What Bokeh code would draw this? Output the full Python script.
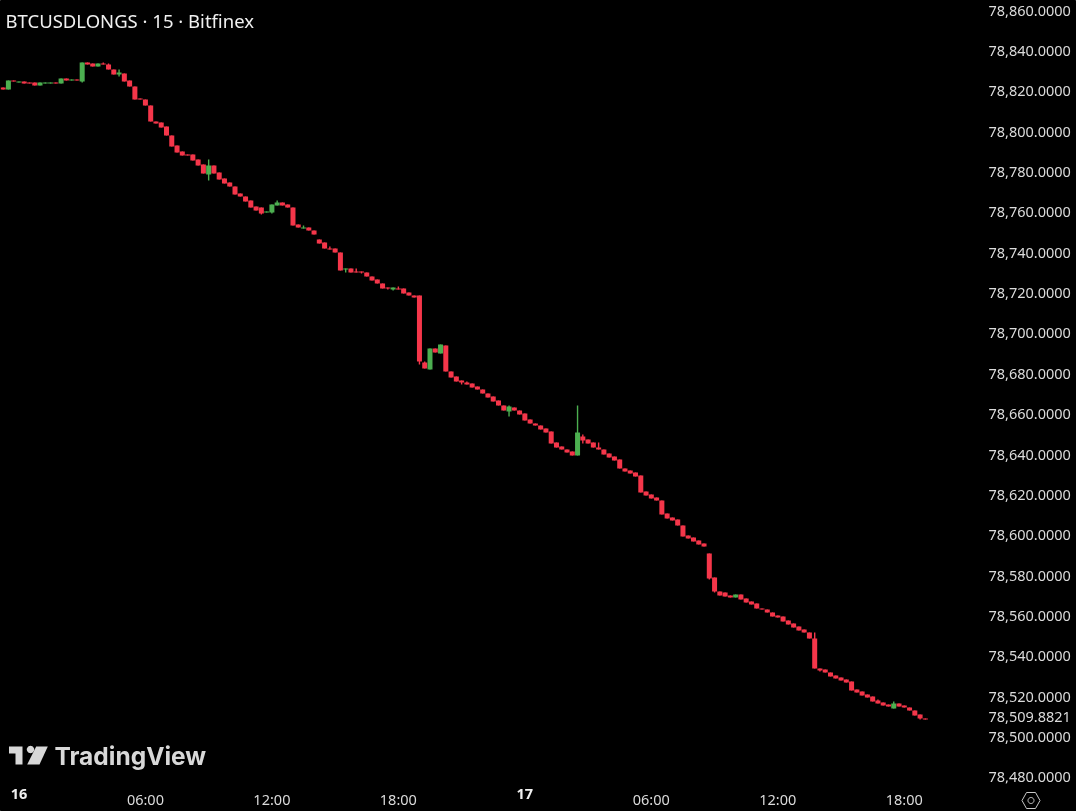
import numpy as np
from bokeh.embed import file_html
from bokeh.resources import INLINE
from bokeh.plotting import figure
from bokeh.models import (ColumnDataSource, FixedTicker, NumeralTickFormatter, Label,
                          PolyAnnotation, Range1d, LinearAxis)

first_bar = -4
opens = [78822.35,78821.85,78820.86,78825.32,78824.33,78824.82,78824.33,78824.33,78822.84,78823.83,78823.83,78824.33,78823.83,78826.31,78825.32,78825.81,
78824.82,78834.24,78833.74,78832.26,78833.74,78833.25,78830.77,78828.29,78828.79,78825.32,78822.35,78816.40,78815.91,78812.93,78805.01,78804.51,78802.53,78798.07,78793.12,78790.14,78788.66,78788.66,78786.18,78783.70,78778.75,78783.21,78779.74,78776.77,78774.78,78772.80,78769.33,78767.85,78765.87,78762.89,78762.40,78759.92,78759.92,78763.39,78764.88,78763.88,78762.40,78753.98,
78751.99,78752.49,78751.00,78746.54,78745.06,78742.09,78742.09,78740.10,78731.68,78732.18,78730.69,78730.69,78730.19,78728.21,78726.73,78724.75,78722.76,78721.77,78722.27,78722.27,78720.29,78718.80,78718.80,78685.60,78682.14,78692.54,78690.06,78694.03,78681.15,78678.67,78676.69,78675.70,78675.20,78673.71,78672.23,78670.25,78668.76,78666.78,
78664.30,78661.33,78663.31,78661.82,78660.34,78657.37,78655.38,78654.39,78652.91,78651.42,78645.97,78643.99,78642.50,78641.51,78639.53,78648.94,78647.46,78645.97,78643.49,78642.50,78640.52,78639.03,78637.55,78633.09,78632.10,78631.11,78629.62,78621.69,78620.21,78618.72,78617.23,78610.79,78608.81,78607.82,78604.85,78599.89,78598.90,78597.42,78595.93,
78590.98,78579.09,78572.15,78571.65,78570.17,78569.18,78570.66,78568.68,78567.20,78566.21,78563.73,78563.23,78561.75,78560.26,78559.76,78557.78,78556.30,78554.81,78553.32,78551.84,78548.86,78534.00,78533.50,78532.02,78530.53,78529.54,78528.55,78527.56,78523.60,78522.61,78521.12,78520.13,78518.15,78517.16,78516.16,78514.18,78516.66,78515.67,78514.68,78513.19,78511.21,78509.23]
closes = [78821.85,78820.86,78825.32,78824.82,78824.82,78823.83,78823.83,78822.84,78824.33,78824.33,78824.33,78823.83,78826.31,78825.32,78825.81,78825.32,
78834.24,78833.25,78832.26,78833.74,78833.25,78830.77,78828.29,78829.28,78824.82,78822.35,78815.91,78815.91,78812.93,78805.01,78804.02,78802.03,78798.07,78792.62,78789.65,78788.16,78788.16,78785.68,78783.21,78779.24,78783.21,78779.24,78776.27,78774.29,78772.80,78768.84,78767.85,78765.37,78762.40,78760.91,78759.43,78760.42,78763.88,78764.88,78763.39,78762.40,78753.48,78752.49,
78752.49,78751.00,78749.02,78744.56,78742.09,78741.59,78740.10,78731.19,78732.18,78730.19,78730.19,78730.19,78728.21,78726.23,78724.75,78722.27,78722.27,78722.76,78721.77,78719.79,78718.80,78717.81,78686.10,78682.63,78692.54,78690.56,78694.52,78681.15,78678.17,78676.19,78675.70,78674.71,78673.22,78672.23,78670.25,78668.26,78666.28,78664.30,
78661.82,78663.81,78661.82,78659.84,78656.87,78655.38,78654.39,78652.41,78650.92,78645.47,78643.49,78642.50,78641.02,78639.53,78650.92,78646.96,78645.47,78643.49,78642.50,78640.02,78638.54,78637.05,78633.09,78631.60,78630.61,78629.12,78621.20,78619.71,78618.23,78617.23,78610.30,78608.32,78607.33,78604.85,78599.40,78598.41,78596.92,78595.44,78594.44,
78578.59,78572.15,78570.17,78569.67,78569.18,78570.66,78568.19,78566.70,78565.71,78563.73,78563.23,78561.75,78559.76,78559.27,78557.29,78555.80,78554.31,78552.83,78551.84,78548.86,78534.00,78533.01,78532.02,78530.04,78529.05,78528.06,78527.06,78523.10,78522.11,78520.62,78519.63,78517.65,78516.66,78515.67,78515.17,78516.66,78515.17,78514.68,78513.19,78510.71,78509.23,78508.73]
# wicks that extend past the candle bodies
high_bars = [16,17,19,36,49,54,59,64,72,77,85,93,106,107,110,151,163,166]
high_vals = [78834.24,78833.74,78830.77,78786.18,78765.87,78753.48,78743.08,78732.18,78723.26,78686.10,78676.19,78664.30,78664.30,78649.93,78645.97,78551.84,78518.64,78517.65]
low_bars = [12,19,36,46,48,62,65,70,71,76,84,93,107,131,132,152,171]
low_vals = [78824.33,78827.30,78775.78,78758.93,78759.43,78730.19,78729.70,78721.77,78721.28,78684.61,78674.71,78658.85,78645.47,78578.10,78571.65,78532.51,78508.73]

time_ticks = [24,48,72,120,144,168]
time_labels = ["06:00","12:00","18:00","06:00","12:00","18:00"]
day_ticks = [0,96]
day_labels = ["16","17"]
price_ticks = [78860,78840,78820,78800,78780,78760,78740,78720,78700,78680,78660,78640,78620,78600,78580,78560,78540,78520,78500,78480]
last_price = 78509.8821

BG = "#000000"
UP = "#4CAF50"
DOWN = "#F5364A"
TXT = "#DBDBDB"
FONT = "Noto Sans"
FB = 811  # frame bottom on the page

t = np.arange(first_bar, first_bar + len(opens))
o = np.array(opens); c = np.array(closes)
hi = np.maximum(o, c); lo = np.minimum(o, c)
hs = hi.copy(); ls = lo.copy()
for b, v in zip(high_bars, high_vals): hs[b - first_bar] = v
for b, v in zip(low_bars, low_vals): ls[b - first_bar] = v
col = [UP if cc > oo else DOWN for oo, cc in zip(o, c)]
src = ColumnDataSource(dict(t=t, top=hi, bottom=lo, high=hs, low=ls, color=col))

p = figure(width=1076, height=811, frame_width=1076, frame_height=811, output_backend="svg", toolbar_location=None,
           x_range=Range1d(-3.50, 200.68), y_range=Range1d(78463.15, 78864.95),
           background_fill_color=BG, border_fill_color=BG,
           min_border_left=0, min_border_top=0, min_border_right=0, min_border_bottom=0,
           y_axis_location=None, x_axis_location=None)
p.outline_line_color = "#000000"
p.styles = {"position": "fixed", "left": "0", "top": "0"}
p.grid.visible = False

p.segment("t", "high", "t", "low", source=src, line_color="color", line_width=1.4)
p.vbar("t", 0.95, "top", "bottom", source=src, fill_color="color", line_color=None)

def style_axis(ax, color, standoff):
    ax.axis_line_color = BG; ax.major_tick_line_color = BG; ax.minor_tick_line_color = BG
    ax.major_tick_out = 0; ax.major_tick_in = 0; ax.minor_tick_out = 0; ax.minor_tick_in = 0
    ax.major_label_text_color = color; ax.major_label_text_font = FONT
    ax.major_label_text_font_size = "14.5px"; ax.major_label_standoff = standoff

ya = LinearAxis(ticker=FixedTicker(ticks=price_ticks + [last_price]), formatter=NumeralTickFormatter(format="0,0.0000"))
style_axis(ya, TXT, -88)
p.add_layout(ya, "right")

xa = LinearAxis(ticker=FixedTicker(ticks=time_ticks),
                major_label_overrides=dict(zip(time_ticks, time_labels)))
style_axis(xa, TXT, -23)
p.add_layout(xa, "below")

xd = LinearAxis(ticker=FixedTicker(ticks=day_ticks),
                major_label_overrides=dict(zip(day_ticks, day_labels)))
style_axis(xd, "#F0F0F0", -23)
xd.major_label_text_font_style = "bold"
p.add_layout(xd, "below")

def Y(v):
    return FB - np.asarray(v, dtype=float)

def shape(xs, ys, **kw):
    p.add_layout(PolyAnnotation(xs=list(xs), ys=list(Y(ys)), xs_units="screen", ys_units="screen", level="overlay", **kw))

p.add_layout(Label(x=5, y=Y(20), x_units="screen", y_units="screen", text="BTCUSDLONGS · 15 · Bitfinex", text_baseline="middle",
                   text_color="#F0F0F0", text_font=FONT, text_font_size="18.5px", text_font_style="normal"))
p.add_layout(Label(x=54, y=Y(755), x_units="screen", y_units="screen", text="TradingView", text_baseline="middle",
                   text_color="#D8D8D8", text_font="Inter", text_font_size="24.5px", text_font_style="bold"))

LOGO = "#D8D8D8"
shape([8.5, 22, 22, 15, 15, 8.5], [746, 746, 764, 764, 753, 753], fill_color=LOGO, fill_alpha=1, line_color=BG, line_alpha=0)
shape([35.7, 47.3, 39, 26.7], [746, 746, 764, 764], fill_color=LOGO, fill_alpha=1, line_color=BG, line_alpha=0)
ang = np.linspace(0, 2 * np.pi, 24, endpoint=False)
shape(30 + 3.7 * np.cos(ang), 749 + 3.7 * np.sin(ang), fill_color=LOGO, fill_alpha=1, line_color=BG, line_alpha=0)

# corner of the price scale: hides the lower part of the lowest label and holds the settings icon
shape([975, 1076, 1076, 975], [783, 783, 811, 811], fill_color=BG, fill_alpha=1, line_color=BG, line_alpha=0)
shape([1021.5, 1026, 1035, 1039.5, 1035, 1026], [800, 792, 792, 800, 808, 808], fill_color=BG, fill_alpha=0, line_color="#C8C8C8", line_alpha=1, line_width=1)
shape(1030.5 + 3 * np.cos(ang), 800 + 3 * np.sin(ang), fill_color=BG, fill_alpha=0, line_color="#C8C8C8", line_alpha=1, line_width=1)

open("out.html", "w").write(file_html(p, INLINE))
